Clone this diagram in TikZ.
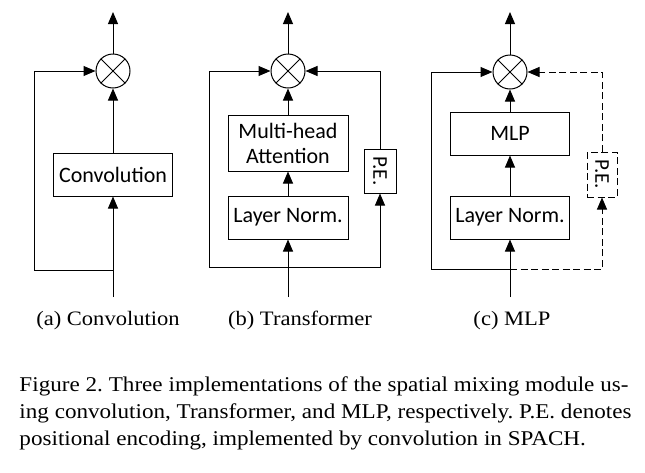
\documentclass[tikz,border=0pt]{standalone}
\usepackage{fontspec}
\newfontfamily\boxfont{Carlito}
\newfontfamily\capfont[FakeStretch=1.1]{Liberation Serif}
\usetikzlibrary{arrows.meta}
\begin{document}
\frenchspacing
\begin{tikzpicture}[x=1pt,y=-1pt,
  line width=1pt,
  arr/.style={-{Triangle[length=12pt,width=10pt]}},
  blk/.style={draw, rectangle, line width=1pt, inner sep=0pt, minimum width=119pt, minimum height=43pt,
    font=\boxfont\fontsize{22}{25}\selectfont, align=center},
  mult/.style={draw, circle, line width=1pt, minimum size=34pt, inner sep=0pt},
  pebox/.style={draw, rectangle, line width=1pt, inner sep=0pt, minimum width=32pt, minimum height=44pt,
    font=\boxfont\fontsize{21}{22}\selectfont},
  dsh/.style={dash pattern=on 7pt off 3.5pt},
  subcap/.style={font=\capfont\fontsize{20.5}{24}\selectfont, anchor=base, inner sep=0pt},
  figcap/.style={font=\capfont\fontsize{21}{27}\selectfont, anchor=base west, inner sep=0pt}
]
\useasboundingbox (0,0) rectangle (645,472);

% ---------- (a) Convolution ----------
\node[mult] (ma) at (113,71) {};
\draw (ma.45) -- (ma.225) (ma.135) -- (ma.-45);
\node[blk] (conv) at (113,174.5) {Convolution};
\coordinate (ina) at (113,297);
\coordinate (ja) at (113,270);
\coordinate (la) at (34,270);
\coordinate (lta) at (34,71);
\coordinate (outa) at (113,12);
\draw[arr] (ina) -- (conv.south);
\draw[arr] (conv.north) -- (ma.south);
\draw[arr] (ma.north) -- (outa);
\draw[arr] (ja) -- (la) -- (lta) -- (ma.west);
\node[subcap] (capa) at (108,325) {(a) Convolution};

% ---------- (b) Transformer ----------
\node[mult] (mb) at (288,71) {};
\draw (mb.45) -- (mb.225) (mb.135) -- (mb.-45);
\node[blk, minimum width=120pt, minimum height=56pt] (mha) at (288,143) {Multi-head\\Attention};
\node[blk, minimum width=120pt] (lnb) at (288,217.5) {Layer Norm.};
\node[pebox] (peb) at (380,171) {\rotatebox{-90}{P.E.}};
\coordinate (inb) at (288,297);
\coordinate (jb) at (288,267);
\coordinate (lb) at (209,267);
\coordinate (ltb) at (209,71);
\coordinate (rb) at (380,267);
\coordinate (rtb) at (380,71);
\coordinate (outb) at (288,12);
\draw[arr] (inb) -- (lnb.south);
\draw[arr] (lnb.north) -- (mha.south);
\draw[arr] (mha.north) -- (mb.south);
\draw[arr] (mb.north) -- (outb);
\draw[arr] (jb) -- (lb) -- (ltb) -- (mb.west);
\draw[arr] (jb) -- (rb) -- (peb.south);
\draw[arr] (peb.north) -- (rtb) -- (mb.east);
\node[subcap] (capb) at (300,325) {(b) Transformer};

% ---------- (c) MLP ----------
\node[mult] (mc) at (510,72) {};
\draw (mc.45) -- (mc.225) (mc.135) -- (mc.-45);
\node[blk] (mlp) at (510,133.5) {MLP};
\node[blk] (lnc) at (510,217.5) {Layer Norm.};
\node[pebox, dsh, minimum width=30pt, minimum height=45pt] (pec) at (602,174.5) {\rotatebox{-90}{P.E.}};
\coordinate (inc) at (510,297);
\coordinate (jc) at (510,269);
\coordinate (lc) at (431,269);
\coordinate (ltc) at (431,72);
\coordinate (rc) at (602,269);
\coordinate (rtc) at (602,72);
\coordinate (outc) at (510,12);
\draw[arr] (inc) -- (lnc.south);
\draw[arr] (lnc.north) -- (mlp.south);
\draw[arr] (mlp.north) -- (mc.south);
\draw[arr] (mc.north) -- (outc);
\draw[arr] (jc) -- (lc) -- (ltc) -- (mc.west);
\draw[arr, dsh] (jc) -- (rc) -- (pec.south);
\draw[arr, dsh] (pec.north) -- (rtc) -- (mc.east);
\node[subcap] (capc) at (512,325) {(c) MLP};

% ---------- caption ----------
\node[figcap] (l1) at (19,391) {\makebox[609pt][s]{Figure 2. Three implementations of the spatial mixing module us-}};
\node[figcap] (l2) at (19,418) {\makebox[612pt][s]{ing convolution, Transformer, and MLP, respectively. P.E. denotes}};
\node[figcap] (l3) at (19,445) {positional encoding, implemented by convolution in SPACH.};
\end{tikzpicture}
\end{document}
